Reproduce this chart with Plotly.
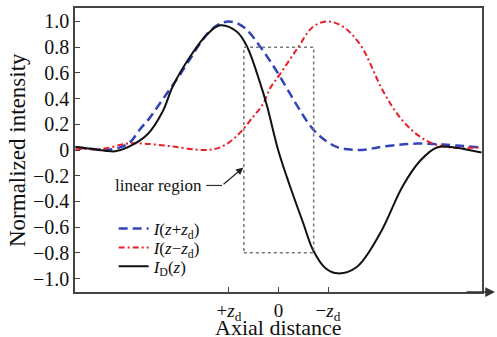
import plotly.graph_objects as go

# ---- data ----
z_blue = [-4.1, -3.8, -3.5, -3.2, -3.0, -2.8, -2.6, -2.4, -2.2, -2.0, -1.8, -1.6, -1.4, -1.2, -1.0,
          -0.8, -0.6, -0.4, -0.2, 0.0, 0.2, 0.4, 0.6, 0.8, 1.0, 1.2, 1.4, 1.6, 1.8, 2.0, 2.4, 2.8,
          3.2, 3.6, 4.1]
i_blue = [0.02, 0.01, 0.0, 0.02, 0.06, 0.16, 0.25, 0.36, 0.47, 0.58, 0.70, 0.82, 0.92, 0.98, 1.0,
          0.98, 0.92, 0.82, 0.71, 0.59, 0.46, 0.33, 0.21, 0.12, 0.06, 0.02, 0.005, 0.0, 0.005, 0.02,
          0.04, 0.05, 0.045, 0.035, 0.02]

z_red = [-4.1, -3.54, -3.06, -2.73, -2.19, -1.52, -1.18, -0.84, -0.51, -0.31, -0.17, 0.03, 0.38,
         0.7, 1.0, 1.3, 1.65, 2.11, 2.46, 2.8, 3.12, 3.47, 4.1]
i_red = [0.01, 0.01, 0.05, 0.05, 0.03, 0.0, 0.02, 0.11, 0.26, 0.36, 0.48, 0.59, 0.79,
         0.96, 1.0, 0.96, 0.82, 0.46, 0.25, 0.12, 0.05, 0.02, 0.02]

z_black = [-4.1, -3.8, -3.5, -3.3, -3.05, -2.65, -2.34, -2.13, -1.78, -1.44, -1.18, -0.84, -0.63,
           -0.37, -0.23, 0.0, 0.24, 0.5, 0.7, 0.95, 1.2, 1.58, 2.05, 2.51, 2.87, 3.2, 3.55, 4.1]
i_black = [0.025, 0.01, -0.005, -0.01, 0.02, 0.12, 0.30, 0.50, 0.73, 0.90, 0.97, 0.92, 0.80,
           0.52, 0.34, -0.01, -0.29, -0.57, -0.78, -0.92, -0.96, -0.91, -0.65, -0.28, -0.08, 0.02,
           0.02, -0.02]

x_tickvals = [-1, 0, 1]
x_ticktext = ["+<i>z</i><sub>d</sub>", "0", "\u2212<i>z</i><sub>d</sub>"]
y_tickvals = [1.0, 0.8, 0.6, 0.4, 0.2, 0, -0.2, -0.4, -0.6, -0.8, -1.0]
y_ticktext = ["1.0", "0.8", "0.6", "0.4", "0.2", "0", "\u22120.2", "\u22120.4", "\u22120.6",
              "\u22120.8", "\u22121.0"]

names = ["<i>I</i>(<i>z</i>+<i>z</i><sub>d</sub>)",
         "<i>I</i>(<i>z</i>\u2212<i>z</i><sub>d</sub>)",
         "<i>I</i><sub>D</sub>(<i>z</i>)"]

SERIF = "Liberation Serif, Times New Roman, DejaVu Serif, serif"

fig = go.Figure()
fig.add_trace(go.Scatter(x=z_blue, y=i_blue, mode="lines", name=names[0], legend="legend",
                         line=dict(color="#3344bb", width=2.5, dash="9px,5px", shape="spline")))
fig.add_trace(go.Scatter(x=z_red, y=i_red, mode="lines", name=names[1], legend="legend2",
                         line=dict(color="#e8202a", width=2, dash="6px,3px,2px,3px", shape="spline")))
fig.add_trace(go.Scatter(x=z_black, y=i_black, mode="lines", name=names[2], legend="legend3",
                         line=dict(color="#111111", width=2, shape="spline")))

# linear region box
fig.add_shape(type="rect", x0=-0.7, x1=0.71, y0=-0.8, y1=0.8, xref="x", yref="y",
              line=dict(color="#777777", width=1.5, dash="dot"))
# elbow of the annotation arrow
fig.add_shape(type="line", x0=-1.46, x1=-1.14, y0=-0.276, y1=-0.276, xref="x", yref="y",
              line=dict(color="#333333", width=1.2))
fig.add_annotation(x=-0.71, y=-0.137, ax=-1.14, ay=-0.276, axref="x", ayref="y",
                   xref="x", yref="y", text="", showarrow=True, arrowhead=2,
                   arrowsize=1.2, arrowwidth=1.2, arrowcolor="#222222")
fig.add_annotation(x=-2.43, y=-0.276, xref="x", yref="y", text="linear region",
                   xanchor="center", yanchor="middle",
                   showarrow=False, font=dict(family=SERIF, size=17, color="#111111"))

# axis arrow
fig.add_annotation(x=1.032, y=0, xref="paper", yref="paper", ax=-30, ay=0, text="",
                   showarrow=True, arrowhead=2, arrowsize=1.3, arrowwidth=1.5,
                   arrowcolor="#333333")

# axis titles
fig.add_annotation(x=-0.1425, y=0.50, xref="paper", yref="paper", text="Normalized intensity",
                   textangle=-90, showarrow=False, xanchor="center", yanchor="middle",
                   font=dict(family=SERIF, size=23, color="#111111"))
fig.add_annotation(x=0.4988, y=-0.125, xref="paper", yref="paper", text="Axial distance",
                   showarrow=False, xanchor="center", yanchor="middle",
                   font=dict(family=SERIF, size=22, color="#111111"))

leg_common = dict(xanchor="left", yanchor="middle", bgcolor="rgba(255,255,255,0)",
                  borderwidth=0, font=dict(family=SERIF, size=17, color="#111111"),
                  itemwidth=30)

fig.update_layout(
    width=497, height=337, autosize=False,
    margin=dict(l=75, r=15, t=6, b=44.5),
    paper_bgcolor="white", plot_bgcolor="white",
    font=dict(family=SERIF, color="#111111"),
    showlegend=True,
    legend=dict(x=0.095, y=0.2216, **leg_common),
    legend2=dict(x=0.095, y=0.1553, **leg_common),
    legend3=dict(x=0.095, y=0.089, **leg_common),
    xaxis=dict(range=[-4.11, 4.11], tickvals=x_tickvals, ticktext=x_ticktext,
               ticks="inside", ticklen=5, tickcolor="#444444", tickwidth=1.2,
               showline=True, linecolor="#444444", linewidth=1.5, mirror=True,
               showgrid=False, zeroline=False,
               tickfont=dict(family=SERIF, size=19, color="#111111")),
    yaxis=dict(range=[-1.105, 1.105], tickvals=y_tickvals, ticktext=y_ticktext,
               ticks="inside", ticklen=5, tickcolor="#444444", tickwidth=1.2,
               showline=True, linecolor="#444444", linewidth=1.5, mirror=True,
               showgrid=False, zeroline=False,
               tickfont=dict(family=SERIF, size=20, color="#111111")),
)

fig.write_html("out.html")
